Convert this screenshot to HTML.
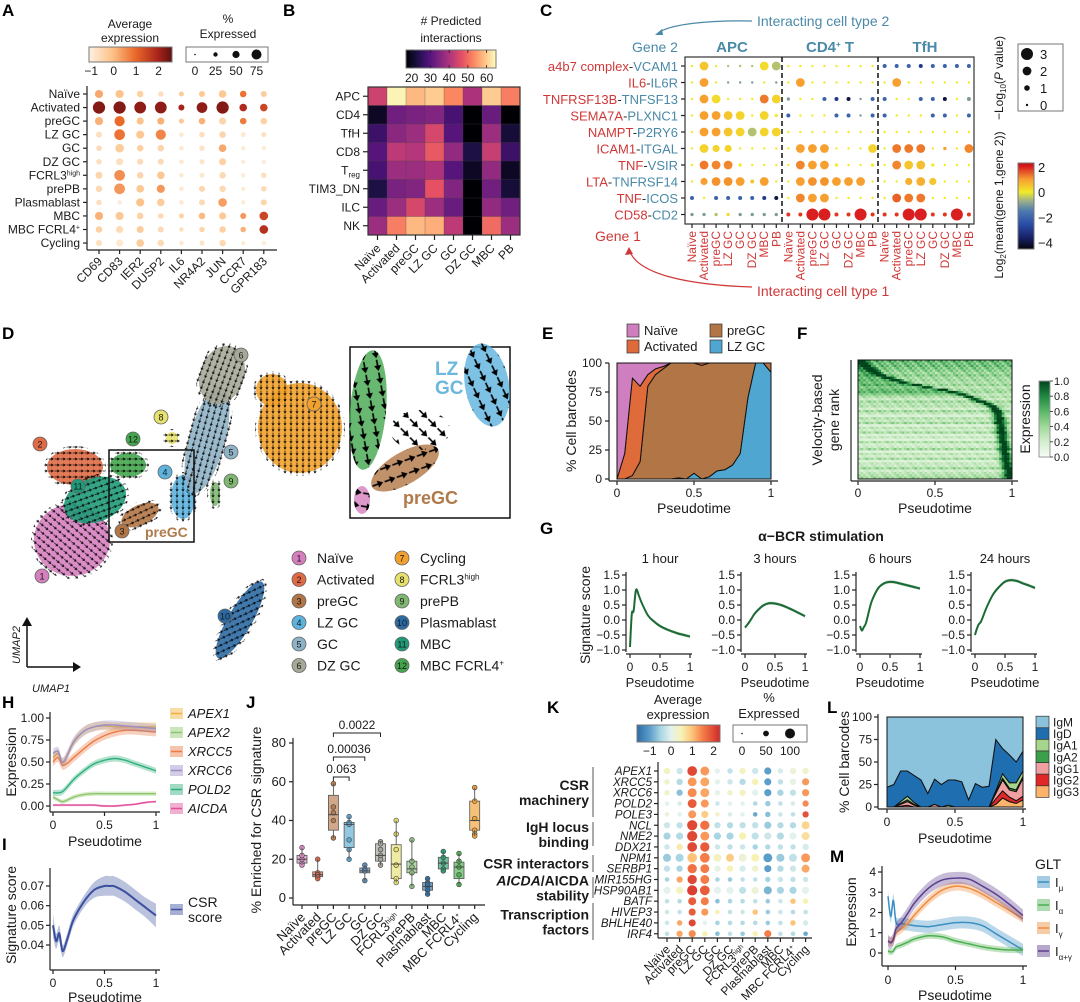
<!DOCTYPE html>
<html><head><meta charset="utf-8">
<style>
body{margin:0;background:#fff}
svg{display:block;font-family:"Liberation Sans",Arial,sans-serif}
</style></head>
<body>
<svg id="fig" width="1080" height="1002" viewBox="0 0 1080 1002">
<defs id="defs"></defs>
<rect x="0" y="0" width="1080" height="1002" fill="#fff"/>
</svg>
<script>
// ===== DATA =====
// Panel A
const aGenes=['CD69','CD83','IER2','DUSP2','IL6','NR4A2','JUN','CCR7','GPR183'];
const aCells=['Naïve','Activated','preGC','LZ GC','GC','DZ GC','FCRL3<tspan dy="-4" font-size="7">high</tspan>','prePB','Plasmablast','MBC','MBC FCRL4<tspan dy="-4" font-size="7">+</tspan>','Cycling'];
const aColor=[[0.3,0,-0.3,-0.6,-0.2,-0.1,-0.1,0.9,-0.2],[2.3,2.3,2.2,2.2,2.0,2.2,2.3,1.9,1.5],[0.2,1.0,0,0.2,-0.1,0.2,-0.4,0.8,-0.3],[-0.6,0.9,-0.1,0.7,-0.8,-0.6,-0.4,-0.8,-0.6],[-0.5,-0.2,-0.3,-0.4,-0.8,-0.7,0.3,-0.9,-0.9],[-0.6,-0.6,-0.5,-0.5,-0.8,-0.7,-0.3,-0.9,-0.9],[-0.4,0.6,-0.4,-0.1,-0.8,-0.8,-0.5,-0.9,-0.6],[-0.5,0.5,-0.1,0.5,-0.8,-0.4,-0.5,-0.9,-0.5],[-0.6,-0.9,0,-0.2,-0.8,-0.5,0.4,-0.9,-0.4],[0.2,-0.1,-0.3,-0.5,-0.3,0.1,-0.1,0.5,1.5],[-0.3,-0.5,-0.2,-0.5,-0.6,-0.4,-0.3,0.2,1.8],[-0.6,-0.8,-0.2,-0.5,-0.8,-0.7,-0.5,-0.9,-0.9]];
const aSize=[[0.55,0.55,0.4,0.3,0.25,0.35,0.5,0.4,0.35],[0.95,0.95,0.9,0.9,0.35,0.8,0.95,0.5,0.5],[0.55,0.75,0.45,0.45,0.25,0.4,0.45,0.4,0.4],[0.35,0.8,0.55,0.75,0.2,0.3,0.4,0.25,0.25],[0.3,0.6,0.4,0.4,0.2,0.3,0.5,0.2,0.2],[0.3,0.45,0.35,0.35,0.2,0.25,0.45,0.2,0.2],[0.45,0.8,0.4,0.5,0.2,0.25,0.4,0.2,0.3],[0.4,0.8,0.5,0.55,0.2,0.35,0.4,0.2,0.3],[0.3,0.2,0.55,0.5,0.2,0.35,0.6,0.2,0.35],[0.55,0.55,0.4,0.3,0.25,0.4,0.45,0.35,0.6],[0.4,0.45,0.45,0.35,0.2,0.3,0.4,0.3,0.6],[0.35,0.45,0.5,0.4,0.2,0.25,0.4,0.2,0.2]];
// Panel B
const bRows=['APC','CD4','TfH','CD8','T<tspan dy="3" font-size="8">reg</tspan>','TIM3_DN','ILC','NK'];
const bCols=['Naïve','Activated','preGC','LZ GC','GC','DZ GC','MBC','PB'];
const bVals=[[44,64,58,60,53,40,60,52],[20,33,34,35,28,17,32,17],[27,36,38,45,30,17,38,22],[30,42,41,48,37,23,43,27],[28,38,38,40,30,20,37,20],[23,34,35,47,35,17,33,22],[32,38,45,38,32,17,37,33],[38,52,58,57,42,17,50,38]];
const bTicks=[20,30,40,50,60];
// Panel C
const cGene1=['a4b7 complex','IL6','TNFRSF13B','SEMA7A','NAMPT','ICAM1','TNF','LTA','TNF','CD58'];
const cGene2=['VCAM1','IL6R','TNFSF13','PLXNC1','P2RY6','ITGAL','VSIR','TNFRSF14','ICOS','CD2'];
const cCols=['Naïve','Activated','preGC','LZ GC','GC','DZ GC','MBC','PB'];
const cGroups=['APC','CD4<tspan dy="-5" font-size="8">+</tspan><tspan dy="5"> T</tspan>','TfH'];
const cColor=[[0,0.5,0,-0.5,-0.5,-0.5,0.2,-0.5,0,0,0,0,0,0,0,0,-2,-2,-2,-3,-2,-2,-2,-2],[0,1,0,-1,-1,-1,0,-1,0,1,0,0,0,0,0,0,0,1,0,0,0,0,0,0],[0,1,0.2,0,0,0,1.3,0.3,-1,0,0,-2,-3,-4,-1,-2,-2,0,0,-2,-2,-4,0,-1],[0,1,1,0.5,0.3,0,0.3,0,-2,0,0,0,-2,-2,-1,-2,-2,0,0,0,-2,-2,0,-2],[0,1,1,0.5,0.3,-0.5,0.3,0.3,0,0,0,0,0,0,0,0,0,0,0,0,0,0,0,0],[0,0.3,0.3,0.3,0,0,0,0,0,1,1,1,0,0,0,0.3,0,1.3,1.3,1.3,0,1,0,1.2],[0,1.3,1.2,1.2,0,0,0,0,0,1.2,1,1,0,0,0,0,0,1.2,0.5,0.6,0,0,0,0],[0,1,1.1,1.1,1,0.5,1,0,0,1,1.1,1.1,1,1,1,0,0,0,0.8,0.8,0.5,0,0,0],[-2,0,-2,-2,-2,-2,-3,-4,0,1.2,1,1,0,0,0,0,0,1.5,1.3,1.3,0,0,0,0],[-1,-1,-0.5,0.2,-1,-1,-1,-1,1.8,1.8,2,2,1.8,1.8,2,1.8,1.8,1.8,2,2,1.8,1.8,2,1.8]];
const cSize=[[0,2,0,0,0,0,2,2,0,0,0,0,0,0,0,0,0.5,0.5,0.5,0.5,0.5,0.5,0.5,0.5],[0,2,0,0,0,0,0,0,0,2,0,0,0,0,0,0,0,2,0,0,0,0,0,0],[0,2,2,0,0,0,2,2,0.3,0,0,0.5,0.5,0.5,0,0.5,0.5,0,0,0.5,0.5,0.5,0,0.5],[0,2,2,2,2,0,2,0.3,0.5,0,0,0,0.5,0.5,0,0.5,0.5,0,0,0,0.5,0.5,0,0.5],[0,2,2,2,2,2,2,2,0,0,0,0,0,0,0,0,0,0,0,0,0,0,0,0],[0,2,1.5,1.5,0,0,0,0,0,2,2,2,0,0,0,2,0,2,2,2,0,0.3,0,2],[0,2,2,2,0.3,0,0,0,0,2,2,2,0.3,0,0,0.3,0,2,2,2,0.3,0,0,0],[0,1.5,2,2,2,0.5,2,0,0,2,2,2,2,2,2,0,0,0,1.5,2,1.5,0,0,0],[0.5,0,0.5,0.5,0.5,0.5,0.5,0.5,0,2,2,2,0,0,0,0,0,2,2,2,0,0,0,0],[0.3,0.3,0.3,0.3,0.3,0.3,0.3,0.3,0.5,0.5,3,3,0.5,0.5,3,0.5,0.5,0.5,3,3,0.5,0.5,3,0.5]];
// Panel D legend
const dNames=['Naïve','Activated','preGC','LZ GC','GC','DZ GC','Cycling','FCRL3<tspan dy="-5" font-size="8">high</tspan>','prePB','Plasmablast','MBC','MBC FCRL4<tspan dy="-5" font-size="8">+</tspan>'];
const dColors=['#d67fbe','#df6a45','#b27545','#5cb3de','#8fb3c6','#a6a998','#f1a12c','#e6e26c','#80b872','#2c6aa3','#1f9a78','#43a64e'];
// Panel E
const eT=[0,.05,.1,.15,.2,.25,.3,.35,.4,.45,.5,.55,.6,.65,.7,.75,.8,.85,.9,.95,1];
const eLZ=[0,0,0,0,0,0,0,0,1,0,5,0,2,7,8,12,22,70,100,100,92];
const ePre=[0,0,3,15,80,90,95,100,99,100,95,98,98,93,92,88,78,30,0,0,8];
const eAct=[0,22,84,65,10,5,2,0,0,0,0,2,0,0,0,0,0,0,0,0,0];
const eNaive=[100,78,13,20,10,5,3,0,0,0,0,0,0,0,0,0,0,0,0,0,0];
// Panel F
const fPeaks=[0.02,0.04,0.05,0.08,0.1,0.12,0.15,0.2,0.25,0.3,0.38,0.45,0.55,0.62,0.68,0.72,0.76,0.8,0.84,0.87,0.89,0.9,0.91,0.91,0.92,0.92,0.92,0.93,0.93,0.93,0.93,0.94,0.94,0.94,0.94,0.95,0.95,0.95,0.95,0.96,0.96,0.96,0.96,0.97,0.97,0.97,0.98,0.98,0.98,0.99];
const fBase=[0.45,0.4,0.42,0.38,0.35,0.3,0.36,0.28,0.3,0.25,0.32,0.22,0.28,0.3,0.2,0.26,0.18,0.3,0.22,0.25,0.15,0.3,0.2,0.12,0.25,0.18,0.3,0.1,0.22,0.16,0.28,0.12,0.2,0.1,0.26,0.14,0.18,0.3,0.1,0.22,0.15,0.28,0.12,0.2,0.18,0.3,0.15,0.22,0.25,0.3];
// Panel G
const gT=[0,0.03,0.06,0.1,0.15,0.2,0.3,0.4,0.5,0.6,0.7,0.8,0.9,1];
const g1h=[-0.9,0.2,0.3,1.0,0.8,0.55,0.15,-0.05,-0.2,-0.3,-0.38,-0.45,-0.5,-0.55];
const g3h=[-0.25,-0.18,-0.1,0.02,0.18,0.3,0.48,0.56,0.55,0.5,0.42,0.33,0.23,0.13];
const g6h=[-0.2,-0.35,-0.25,-0.1,0.3,0.65,1.05,1.22,1.27,1.25,1.2,1.15,1.1,1.05];
const g24h=[-0.5,-0.3,-0.15,-0.05,0.2,0.45,0.85,1.1,1.28,1.33,1.3,1.22,1.15,1.07];
const gTitles=['1 hour','3 hours','6 hours','24 hours'];
const gTicks=[1.5,1.0,0.5,0.0,-0.5,-1.0];
// Panel H
const hT=[0,0.05,0.1,0.2,0.3,0.4,0.5,0.6,0.7,0.8,0.9,1];
const hAPEX1=[0.55,0.6,0.5,0.72,0.85,0.9,0.91,0.9,0.9,0.9,0.9,0.9];
const hAPEX2=[0.1,0.07,0.05,0.1,0.13,0.14,0.14,0.14,0.14,0.14,0.14,0.14];
const hXRCC5=[0.5,0.55,0.46,0.55,0.65,0.74,0.8,0.84,0.86,0.86,0.85,0.84];
const hXRCC6=[0.6,0.62,0.5,0.73,0.85,0.9,0.92,0.92,0.91,0.9,0.89,0.88];
const hPOLD2=[0.15,0.15,0.17,0.3,0.4,0.48,0.52,0.54,0.52,0.48,0.44,0.4];
const hAICDA=[0.01,0.01,0.01,0.01,0.01,0.01,0.0,0.0,0.01,0.02,0.04,0.05];
const hNames=['APEX1','APEX2','XRCC5','XRCC6','POLD2','AICDA'];
const hBand=[0.05,0.025,0.05,0.05,0.035,0.012];
// Panel I
const iT=[0,0.03,0.06,0.08,0.1,0.15,0.2,0.3,0.4,0.5,0.55,0.6,0.7,0.8,0.9,1];
const iCSR=[0.05,0.042,0.046,0.04,0.037,0.045,0.053,0.062,0.068,0.070,0.070,0.0698,0.067,0.063,0.059,0.055];
const iBand=[0.006,0.004,0.004,0.004,0.003,0.003,0.003,0.003,0.004,0.005,0.005,0.005,0.005,0.005,0.005,0.006];
// Panel J
const jCats=['Naïve','Activated','preGC','LZ GC','GC','DZ GC','FCRL3<tspan dy="-4" font-size="7">high</tspan>','prePB','Plasmablast','MBC','MBC FCRL4<tspan dy="-4" font-size="7">+</tspan>','Cycling'];
const jPoints=[[18,20,22,26,17],[13,12,11,10,20,12],[59,47,44,40,31],[42,39,38,30,25,20],[17,15,14,9],[29,28,25,20,17,22],[40,33,25,17,10,8],[30,19,16,13,6],[10,8,6,4,2,7],[24,21,18,15,14],[23,19,16,12,7],[57,50,41,35,33,32]];
const jQ1=[18,11,35,26,13,19,10,13,4,15,10,35];
const jMed=[20,12,43,38,14,22,17.5,15,6,18,16,40];
const jQ3=[22,13.5,53,39,15.5,28,27.5,19,8,21,18.5,50];
const jTicks=[0,20,40,60,80];
const jSig=['0.063','0.00036','0.0022'];
const jSigTo=[3,4,5];
// Panel K
const kGenes=['APEX1','XRCC5','XRCC6','POLD2','POLE3','NCL','NME2','DDX21','NPM1','SERBP1','MIR155HG','HSP90AB1','BATF','HIVEP3','BHLHE40','IRF4'];
const kColor=[[0.4,-0.2,2.0,1.3,0,-0.3,0.4,-0.2,-1,-0.1,0.2,0.3],[0.3,-0.4,1.3,1.2,0,-0.2,-0.4,0.5,-1,-0.3,0.1,1.3],[0.3,-0.7,1.4,1.2,0,0.3,0.4,0,-1,-0.5,-0.3,1.3],[0,-0.1,1.8,1.3,-0.2,0,0,-0.4,-0.6,-0.3,-0.1,1.4],[0.2,0,1.3,0.9,0.3,-0.1,0,-0.9,-0.7,-0.2,-0.3,1.9],[-0.2,-0.3,2.0,1.6,-0.3,-0.4,-0.3,-0.3,-0.6,-0.4,-0.4,0.8],[-0.5,-0.4,2.0,1.3,-0.5,-0.5,0.5,-0.3,-0.2,-0.4,0,0.7],[-0.2,0.6,2.0,1.8,-0.2,-0.3,-0.2,-0.5,-0.4,-0.3,-0.3,-0.1],[-0.6,-0.5,1.0,1.5,0.4,0.9,0.2,0.5,-1,-0.6,-0.3,1.3],[-0.3,-0.5,1.6,1.5,0.1,0.5,-0.1,0.3,-1,-0.4,-0.2,1.2],[-0.5,1.2,2,1.5,-0.5,-0.6,-0.3,-0.3,-0.5,-0.2,-0.3,-0.2],[0,0.4,2.1,1.8,0,0,-0.3,0.2,-0.8,-0.5,-0.5,0],[-0.3,-0.4,1.8,1.5,-0.7,-0.5,-0.4,-0.3,-0.6,-0.2,1.0,0.5],[-0.2,-0.3,1.8,1.3,0.5,-0.3,-0.2,1.0,-0.6,-0.2,-0.4,-0.3],[-0.2,1.2,2.0,0,-0.5,-0.4,-0.4,-0.4,-0.6,-0.3,1.0,-0.1],[-0.3,1.2,1.4,0.5,-0.7,-0.3,-0.6,0.5,1.5,-0.3,-0.4,-0.9]];
const kSize=[[0.5,0.5,0.9,0.8,0.4,0.4,0.5,0.5,0.6,0.4,0.5,0.5],[0.4,0.5,0.8,0.8,0.4,0.4,0.5,0.5,0.6,0.4,0.5,0.6],[0.4,0.5,0.8,0.8,0.4,0.4,0.5,0.5,0.6,0.5,0.5,0.6],[0.3,0.3,0.8,0.7,0.3,0.3,0.3,0.3,0.4,0.3,0.3,0.5],[0.3,0.3,0.7,0.6,0.3,0.3,0.3,0.3,0.4,0.3,0.3,0.5],[0.5,0.5,0.95,0.85,0.5,0.5,0.5,0.5,0.6,0.5,0.5,0.7],[0.6,0.6,0.95,0.8,0.6,0.6,0.6,0.6,0.6,0.6,0.6,0.7],[0.4,0.5,0.9,0.85,0.4,0.4,0.4,0.4,0.4,0.4,0.4,0.5],[0.7,0.7,0.9,0.9,0.7,0.7,0.7,0.7,0.8,0.7,0.7,0.8],[0.5,0.5,0.85,0.8,0.5,0.5,0.5,0.5,0.6,0.5,0.5,0.7],[0.3,0.5,0.85,0.8,0.3,0.3,0.3,0.3,0.4,0.4,0.4,0.4],[0.6,0.6,0.95,0.9,0.6,0.6,0.6,0.6,0.7,0.6,0.6,0.6],[0.3,0.3,0.7,0.7,0.3,0.3,0.3,0.3,0.3,0.3,0.4,0.4],[0.3,0.3,0.6,0.6,0.3,0.3,0.3,0.4,0.3,0.3,0.3,0.3],[0.3,0.4,0.6,0.3,0.3,0.3,0.3,0.3,0.3,0.3,0.4,0.4],[0.3,0.5,0.6,0.4,0.3,0.3,0.3,0.4,0.6,0.3,0.3,0.3]];
const kCols=['Naïve','Activated','preGC','LZ GC','GC','DZ GC','FCRL3<tspan dy="-4" font-size="7">high</tspan>','prePB','Plasmablast','MBC','MBC FCRL4<tspan dy="-4" font-size="7">+</tspan>','Cycling'];
// Panel L
const lT=[0,.05,.1,.15,.2,.25,.3,.35,.4,.45,.5,.55,.6,.65,.7,.75,.8,.85,.9,.95,1];
const lIgG3=[0,0,0,0,0,0,0,0,0,0,0,0,0,0,0,0,3,10,6,4,8];
const lIgG2=[0,0,1,2,0,0,0,0,0,0,0,0,0,0,0,0,6,8,5,3,4];
const lIgG1=[0,0,2,4,2,0,0,3,0,0,0,0,0,0,0,0,6,12,8,10,20];
const lIgA2=[0,0,1,2,1,0,0,0,0,0,0,0,0,0,0,0,1,2,2,2,2];
const lIgA1=[0,0,2,4,2,0,0,0,0,2,0,0,0,0,0,0,2,5,6,8,6];
const lIgD=[22,25,34,28,30,30,15,28,25,28,30,28,8,26,22,23,57,28,31,23,22];
const lNames=['IgM','IgD','IgA1','IgA2','IgG1','IgG2','IgG3'];
const lColors=['#8cc3dc','#1f6fb0','#a6d58c','#3aa04a','#f0a0a0','#e02828','#fdb46a'];
// Panel M
const mT=[0,0.02,0.04,0.06,0.1,0.15,0.2,0.3,0.4,0.5,0.6,0.7,0.8,0.9,1];
const mMu=[2.8,1.8,2.6,1.5,1.45,1.4,1.35,1.3,1.4,1.5,1.5,1.35,0.95,0.55,0.15];
const mAlpha=[0.1,0.05,0.1,0.3,0.4,0.55,0.7,0.85,0.8,0.6,0.45,0.3,0.2,0.15,0.15];
const mGamma=[0.6,0.55,0.6,1.0,1.2,1.5,1.9,2.6,3.1,3.3,3.2,2.9,2.5,2.1,1.7];
const mAG=[0.6,0.5,0.7,1.2,1.5,2.0,2.5,3.2,3.6,3.7,3.65,3.3,2.9,2.4,1.85];
const mBand=[0.3,0.15,0.22,0.3];

// ===== HELPERS =====
const NS='http://www.w3.org/2000/svg';
const svg=document.getElementById('fig');
const defs=document.getElementById('defs');
function mk(tag,attrs,parent){const e=document.createElementNS(NS,tag);for(const k in attrs){if(attrs[k]!=null)e.setAttribute(k,attrs[k]);}(parent||svg).appendChild(e);return e;}
function T(x,y,s,o,name){o=o||{};const t=mk('text',{x:x,y:y,'font-size':o.fs||12,'text-anchor':o.a||'start',fill:o.c||'#1a1a1a','font-weight':o.b?'bold':null,'font-style':o.i?'italic':null,transform:o.r!=null?'rotate('+o.r+' '+x+' '+y+')':null},o.p);t.innerHTML=s;


return t;}
function Ln(x1,y1,x2,y2,name,w,c,dash){const l=mk('line',{x1:x1,y1:y1,x2:x2,y2:y2,stroke:c||'#222','stroke-width':w||1.2,'stroke-dasharray':dash||null});


return l;}
function hx(h){return [parseInt(h.substr(1,2),16),parseInt(h.substr(3,2),16),parseInt(h.substr(5,2),16)];}
function cmap(stops){return function(v){if(v<=stops[0][0])return stops[0][1];for(let i=1;i<stops.length;i++){if(v<=stops[i][0]){const f=(v-stops[i-1][0])/(stops[i][0]-stops[i-1][0]);const a=hx(stops[i-1][1]),b=hx(stops[i][1]);return 'rgb('+a.map((x,k)=>Math.round(x+(b[k]-x)*f)).join(',')+')';}}return stops[stops.length-1][1];};}
function grad(id,stops,vertical){const g=mk('linearGradient',{id:id,x1:0,y1:vertical?1:0,x2:vertical?0:1,y2:0},defs);const lo=stops[0][0],hi=stops[stops.length-1][0];stops.forEach(s=>mk('stop',{offset:((s[0]-lo)/(hi-lo)*100)+'%','stop-color':s[1]},g));}
function smooth(p){if(p.length<2)return '';let d='M'+p[0][0].toFixed(1)+','+p[0][1].toFixed(1);for(let i=0;i<p.length-1;i++){const p0=p[i-1]||p[i],p1=p[i],p2=p[i+1],p3=p[i+2]||p2;const c1=[p1[0]+(p2[0]-p0[0])/6,p1[1]+(p2[1]-p0[1])/6],c2=[p2[0]-(p3[0]-p1[0])/6,p2[1]-(p3[1]-p1[1])/6];d+='C'+c1[0].toFixed(1)+','+c1[1].toFixed(1)+' '+c2[0].toFixed(1)+','+c2[1].toFixed(1)+' '+p2[0].toFixed(1)+','+p2[1].toFixed(1);}return d;}
function lin(d0,d1,r0,r1){return v=>r0+(v-d0)/(d1-d0)*(r1-r0);}
function group(name){const g=mk('g',{});


return g;}
function letter(x,y,s){T(x,y,s,{fs:17,b:true,c:'#000'},'panel-label-'+s.toLowerCase());}
function lineBand(g,xs,ys,band,sx,sy,color,name,lw){const up=xs.map((x,i)=>[sx(x),sy(ys[i]+band[i])]);const dn=xs.map((x,i)=>[sx(x),sy(ys[i]-band[i])]).reverse();
const a=mk('path',{d:smooth(up)+'L'+dn[0][0]+','+dn[0][1]+smooth(dn).substring(1).replace(/^[^C]*/,'')+'Z',fill:color,'fill-opacity':0.35,stroke:'none'},g);


const l=mk('path',{d:smooth(xs.map((x,i)=>[sx(x),sy(ys[i])])),fill:'none',stroke:color,'stroke-width':lw||1.6},g);

}

const orange=[[-1,'#fdf1e2'],[0,'#fdc38a'],[1,'#ea6a2a'],[2,'#a8231a'],[2.6,'#5e1010']];
const magma=[[17,'#000004'],[23,'#1c1044'],[29,'#4f127b'],[35,'#812581'],[41,'#b5367a'],[47,'#e55064'],[53,'#fb8761'],[59,'#fec287'],[65,'#fcfdbf']];
const jet=[[-4.5,'#05050f'],[-3.5,'#1b2470'],[-2.5,'#2a4fa8'],[-1.5,'#4d79b0'],[-0.7,'#9bb089'],[0,'#f2ea2a'],[1,'#f7a030'],[2,'#d91f1f'],[2.3,'#c01010']];
const spectral=[[-1.6,'#2c6ba8'],[-1,'#5b9ec9'],[-0.5,'#a8d5e2'],[0,'#e4f2ee'],[0.5,'#f7f2b4'],[1,'#fdc37a'],[1.5,'#f47c46'],[2.3,'#d2282a']];
const greens=[[0,'#f7fcf5'],[0.2,'#d3eecd'],[0.4,'#a0d99a'],[0.6,'#5ab769'],[0.8,'#1f8742'],[1,'#00441b']];
grad('gA',orange,false);grad('gB',magma,false);grad('gC',jet,true);grad('gF',greens,true);grad('gK',spectral,false);
const cA=cmap(orange),cB=cmap(magma),cC=cmap(jet),cF=cmap(greens),cK=cmap(spectral);

// ===== PANEL A =====
(function(){const g=group('panel-a');letter(2,16,'A');
T(130,28,'Average',{a:'middle',p:g},'color-legend-title');T(130,42,'expression',{a:'middle',p:g},'color-legend-title-2');
const cb=mk('rect',{x:89,y:47,width:83,height:15,fill:'url(#gA)',stroke:'#777'},g);


[-1,0,1,2].forEach(v=>{const x=lin(-1.1,2.6,89,172)(v);T(x,75,v<0?'−1':String(v),{a:'middle',p:g},'color-tick');});
T(228,23,'%',{a:'middle',p:g},'size-legend-title');T(228,38,'Expressed',{a:'middle',p:g},'size-legend-title-2');
const sb=mk('rect',{x:186,y:47,width:82,height:15,fill:'#fff',stroke:'#777'},g);


[0,25,50,75].forEach((v,i)=>{const x=195+i*20.5;const c=mk('circle',{cx:x,cy:54.5,r:0.8+v/75*4.2,fill:'#111'},g);


T(x,75,String(v),{a:'middle',p:g},'size-tick');});
const sx=i=>99+i*20.6,sy=j=>94+j*13.55;
Ln(87,86,87,250,'y-axis');Ln(87,250,277,250,'x-axis');
aCells.forEach((c,j)=>{Ln(83,sy(j),87,sy(j),'y-tick');T(80,sy(j)+4,c,{a:'end',p:g,fs:12},'row-label');});
aGenes.forEach((n,i)=>{Ln(sx(i),250,sx(i),254,'x-tick');T(sx(i)+4,262,n,{a:'end',r:-45,p:g,fs:12},'gene-label');});
aColor.forEach((row,j)=>row.forEach((v,i)=>{const d=mk('circle',{cx:sx(i),cy:sy(j),r:1.2+aSize[j][i]*5.2,fill:cA(v)},g);

}));
})();

// ===== PANEL B =====
(function(){const g=group('panel-b');letter(283,16,'B');
T(451,25,'# Predicted',{a:'middle',p:g},'color-legend-title');T(451,42,'interactions',{a:'middle',p:g},'color-legend-title-2');
const cb=mk('rect',{x:406,y:50,width:90,height:18,fill:'url(#gB)',stroke:'#777'},g);


const cx=lin(17,65,406,496);
bTicks.forEach(v=>{Ln(cx(v),50,cx(v),53,'bar-tick',0.8);Ln(cx(v),65,cx(v),68,'bar-tick',0.8);T(cx(v),82,String(v),{a:'middle',p:g,fs:12},'color-tick');});
const x0=368,w=19,y0=87,h=18.5;
bVals.forEach((row,j)=>row.forEach((v,i)=>{const r=mk('rect',{x:x0+i*w,y:y0+j*h,width:w+0.3,height:h+0.3,fill:cB(v),stroke:'#444','stroke-width':0.3},g);

}));
const fr=mk('rect',{x:x0,y:y0,width:8*w,height:8*h,fill:'none',stroke:'#333','stroke-width':1.2},g);


bRows.forEach((r,j)=>{Ln(x0-5,y0+j*h+h/2,x0,y0+j*h+h/2,'y-tick');T(x0-8,y0+j*h+h/2+4,r,{a:'end',p:g,fs:12},'row-label');});
bCols.forEach((c,i)=>{const x=x0+i*w+w/2;Ln(x,y0+8*h,x,y0+8*h+5,'x-tick');T(x+4,y0+8*h+14,c,{a:'end',r:-45,p:g,fs:12},'col-label');});
})();

// ===== PANEL C =====
(function(){const g=group('panel-c');letter(540,16,'C');
const blue='#4a8aa8',red='#d03838';
T(757,26,'Interacting cell type 2',{p:g,fs:14,c:blue},'annotation-cell-type-2');
const a1=mk('path',{d:'M752,21 C710,20 670,24 658,33',fill:'none',stroke:blue,'stroke-width':1.2},g);


const h1=mk('path',{d:'M655,35 L662,29 L663,35 Z',fill:blue},g);


T(655,52,'Gene 2',{a:'middle',p:g,fs:14,c:blue},'gene-2-label');
const sx=i=>692+i*12.04,sy=j=>66+j*16.5;
cGroups.forEach((n,k)=>T([732,830,925][k],52,n,{a:'middle',b:true,p:g,fs:15,c:blue},'group-title'));
const fr=mk('rect',{x:685,y:57,width:289,height:167,fill:'none',stroke:'#333','stroke-width':1.2},g);


Ln(782,57,782,224,'group-divider',1.5,'#111','5,3');Ln(878,57,878,224,'group-divider',1.5,'#111','5,3');
cGene1.forEach((n,j)=>{Ln(681,sy(j),685,sy(j),'y-tick');T(678,sy(j)+5,'<tspan fill="'+red+'">'+n+'</tspan><tspan fill="#333">-</tspan><tspan fill="'+blue+'">'+cGene2[j]+'</tspan>',{a:'end',p:g,fs:13},'pair-label');});
for(let k=0;k<3;k++)cCols.forEach((c,i)=>{const x=sx(k*8+i);Ln(x,224,x,228,'x-tick');T(x+4,231,c,{a:'end',r:-90,p:g,fs:12,c:red},'col-label');});
cColor.forEach((row,j)=>row.forEach((v,i)=>{const d=mk('circle',{cx:sx(i),cy:sy(j),r:1.2+cSize[j][i]*1.6,fill:cC(v)},g);

}));
T(618,241,'Gene 1',{a:'middle',p:g,fs:14,c:red},'gene-1-label');
const a2=mk('path',{d:'M752,287 C690,285 640,275 630,252',fill:'none',stroke:red,'stroke-width':1.2},g);


const h2=mk('path',{d:'M629,247 L625,255 L633,254 Z',fill:red},g);


T(757,296,'Interacting cell type 1',{p:g,fs:14,c:red},'annotation-cell-type-1');
const sb=mk('rect',{x:1018,y:44,width:45,height:67,fill:'#fff',stroke:'#777'},g);


[3,2,1,0].forEach((v,i)=>{const y=54+i*17;const c=mk('circle',{cx:1027,cy:y,r:1.2+v*1.6,fill:'#111'},g);


T(1040,y+5,String(v),{p:g,fs:13},'size-tick');});
T(1003,78,'−Log<tspan dy="3" font-size="8">10</tspan><tspan dy="-3">(</tspan><tspan font-style="italic">P</tspan> value)',{a:'middle',r:-90,p:g,fs:12},'size-legend-title');
const cb=mk('rect',{x:1018,y:163,width:16,height:86,fill:'url(#gC)',stroke:'#777'},g);


const cy=lin(-4.5,2.3,249,163);
[2,0,-2,-4].forEach(v=>T(1038,cy(v)+5,v<0?'−'+(-v):String(v),{p:g,fs:13},'color-tick'));
T(1003,205,'Log<tspan dy="3" font-size="8">2</tspan><tspan dy="-3">(mean(gene 1,gene 2))</tspan>',{a:'middle',r:-90,p:g,fs:12},'color-legend-title');
})();

// ===== PANEL D =====
(function(){const g=group('panel-d');letter(2,339,'D');
function pat(id,ang,sz){const p=mk('pattern',{id:id,width:sz,height:sz,patternUnits:'userSpaceOnUse',patternTransform:'rotate('+ang+')'},defs);
mk('path',{d:'M'+(sz*0.1)+','+(sz/2)+' H'+(sz*0.7),stroke:'#000','stroke-width':sz/8,fill:'none'},p);
mk('path',{d:'M'+(sz*0.98)+','+(sz/2)+' L'+(sz*0.55)+','+(sz*0.22)+' L'+(sz*0.55)+','+(sz*0.78)+' Z',fill:'#000'},p);}
pat('pR',0,6);pat('pD',90,6);pat('pDR',40,6);pat('pUR',-55,6);pat('pBigR',10,13);pat('pBigD',75,13);pat('pBigDR',45,13);
const blobs=[[72,540,38,36,0,0,'pDR'],[75,467,28,18,0,1,'pR'],[95,500,32,22,-20,10,'pR'],[128,465,18,12,0,11,'pR'],[140,515,20,10,-25,2,'pR'],[172,438,6,6,0,7,'pR'],[183,497,12,22,0,3,'pD'],[207,440,18,55,15,4,'pD'],[222,375,22,30,20,5,'pD'],[215,494,5,12,0,8,'pD'],[300,428,42,45,0,6,'pD'],[272,390,16,16,0,6,'pD'],[240,620,12,44,30,9,'pUR']];
blobs.forEach(b=>{const e=mk('ellipse',{cx:b[0],cy:b[1],rx:b[2],ry:b[3],transform:'rotate('+b[4]+' '+b[0]+' '+b[1]+')',fill:dColors[b[5]],'fill-opacity':0.9},g);


const a=mk('ellipse',{cx:b[0],cy:b[1],rx:b[2]+3,ry:b[3]+3,transform:'rotate('+b[4]+' '+b[0]+' '+b[1]+')',fill:'url(#'+b[6]+')','fill-opacity':0.9},g);

});
const bx=mk('rect',{x:109,y:450,width:85,height:92,fill:'none',stroke:'#111','stroke-width':1.5},g);


T(145,537,'preGC',{p:g,fs:14,b:true,c:'#b07a4a'},'zoom-box-label');
const pos=[[42,576],[40,444],[122,531],[165,472],[231,452],[241,355],[314,404],[161,417],[231,481],[225,616],[78,486],[133,439]];
pos.forEach((p,i)=>{const c=mk('circle',{cx:p[0],cy:p[1],r:7,fill:dColors[i],stroke:'#666','stroke-width':0.8},g);


T(p[0],p[1]+3.5,String(i+1),{a:'middle',p:g,fs:9},'cluster-number');});
const ib=mk('rect',{x:350,y:347,width:160,height:171,fill:'#fff',stroke:'#111','stroke-width':1.5},g);


const inset=[[368,410,18,60,5,11,'pBigD'],[487,385,22,42,-10,3,'pBigD'],[405,468,38,16,-30,2,'pBigR'],[362,500,8,14,0,0,'pBigR'],[420,430,30,20,0,2,'pBigDR']];
inset.forEach((b,k)=>{const e=mk('ellipse',{cx:b[0],cy:b[1],rx:b[2],ry:b[3],transform:'rotate('+b[4]+' '+b[0]+' '+b[1]+')',fill:k==4?'none':dColors[b[5]],'fill-opacity':0.8},g);


const a=mk('ellipse',{cx:b[0],cy:b[1],rx:b[2],ry:b[3],transform:'rotate('+b[4]+' '+b[0]+' '+b[1]+')',fill:'url(#'+b[6]+')'},g);

});
T(435,375,'LZ',{p:g,fs:19,b:true,c:'#6cb8dc'},'inset-lz-label');T(435,394,'GC',{p:g,fs:19,b:true,c:'#6cb8dc'},'inset-gc-label');
T(403,504,'preGC',{p:g,fs:18,b:true,c:'#b07a4a'},'inset-pregc-label');
dNames.forEach((n,i)=>{const col=Math.floor(i/6),row=i%6;const cx=col?402:299,y=558+row*21.5;const c=mk('circle',{cx:cx,cy:y,r:7,fill:dColors[i],stroke:'#666','stroke-width':0.8},g);


T(cx,y+3.5,String(i+1),{a:'middle',p:g,fs:9},'legend-number');
T(cx+18,y+5,n,{p:g,fs:14},'legend-entry');});
const ax=mk('path',{d:'M27,667 V625 M27,667 H74',stroke:'#111','stroke-width':1.5,fill:'none'},g);


const ah=mk('path',{d:'M22,626 L27,617 L32,626 Z M73,662 L81,667 L73,672 Z',fill:'#111'},g);


T(20,645,'UMAP2',{a:'middle',r:-90,i:true,p:g,fs:11},'umap2-label');T(51,692,'UMAP1',{a:'middle',i:true,p:g,fs:11},'umap1-label');
})();

// ===== PANEL E =====
(function(){const g=group('panel-e');letter(542,339,'E');
const sx=lin(0,1,617,771),sy=lin(0,100,479,363);
const layers=[eLZ,ePre,eAct,eNaive],cols=['#4fa6d0','#b27545','#df6a3a','#cf7fbf'],names=['lz-gc-area','pregc-area','activated-area','naive-area'];
let cum=eT.map(()=>0);
layers.forEach((L,k)=>{const lo=cum.slice();cum=cum.map((c,i)=>c+L[i]);const top=eT.map((t,i)=>sx(t)+','+sy(cum[i]));const bot=eT.map((t,i)=>sx(t)+','+sy(lo[i])).reverse();
const p=mk('polygon',{points:top.concat(bot).join(' '),fill:cols[k],stroke:'#111','stroke-width':1},g);

});
const fr=mk('rect',{x:617,y:363,width:154,height:116,fill:'none',stroke:'#111','stroke-width':1},g);


Ln(609,363,609,481,'y-axis');Ln(609,481,778,481,'x-axis');
[0,25,50,75,100].forEach(v=>{Ln(605,sy(v),609,sy(v),'y-tick');T(602,sy(v)+4,String(v),{a:'end',p:g,fs:12},'y-tick-label');});
[0,0.5,1].forEach(v=>{Ln(sx(v),481,sx(v),485,'x-tick');T(sx(v),497,String(v),{a:'middle',p:g,fs:12},'x-tick-label');});
T(694,513,'Pseudotime',{a:'middle',p:g,fs:14},'x-axis-title');
T(576,421,'% Cell barcodes',{a:'middle',r:-90,p:g,fs:14},'y-axis-title');
[['Naïve',627,330,3],['Activated',627,346,2],['preGC',710,330,1],['LZ GC',710,346,0]].forEach(l=>{const r=mk('rect',{x:l[1],y:l[2]-6,width:12,height:13,fill:cols[l[3]],stroke:'#333','stroke-width':0.7},g);


T(l[1]+17,l[2]+5,l[0],{p:g,fs:13},'legend-entry');});
})();

// ===== PANEL F =====
(function(){const g=group('panel-f');letter(797,339,'F');
const nC=60,x0=858,x1=1012,y0=360,y1=479,w=(x1-x0)/nC,h=(y1-y0)/fPeaks.length;
fPeaks.forEach((p,j)=>{for(let i=0;i<nC;i++){const t=(i+0.5)/nC;const v=Math.min(1,fBase[j]*(0.9+1.0*((i*7+j*3)%5)/5)+0.9*Math.exp(-Math.pow((t-p)/0.035,2))+(t<p&&j<15?0.2:0));
const r=mk('rect',{x:(x0+i*w).toFixed(2),y:(y0+j*h).toFixed(2),width:(w+0.3).toFixed(2),height:(h+0.2).toFixed(2),fill:cF(v)},g);

}});
const fr=mk('rect',{x:x0,y:y0,width:x1-x0,height:y1-y0,fill:'none',stroke:'#111','stroke-width':1},g);


Ln(851,360,851,481,'y-axis');Ln(851,481,1018,481,'x-axis');
const sx=lin(0,1,x0,x1);
[0,0.5,1].forEach(v=>{Ln(sx(v),481,sx(v),485,'x-tick');T(sx(v),497,String(v),{a:'middle',p:g,fs:12},'x-tick-label');});
T(935,513,'Pseudotime',{a:'middle',p:g,fs:14},'x-axis-title');
T(822,420,'Velocity-based',{a:'middle',r:-90,p:g,fs:14},'y-axis-title');T(839,420,'gene rank',{a:'middle',r:-90,p:g,fs:14},'y-axis-title-2');
const cb=mk('rect',{x:1039,y:381,width:11,height:76,fill:'url(#gF)',stroke:'#999'},g);


[0,0.2,0.4,0.6,0.8,1].forEach(v=>{const y=457-v*76;Ln(1050,y,1053,y,'bar-tick',0.8);T(1054,y+4,v.toFixed(1),{p:g,fs:11},'color-tick');});
T(1030,419,'Expression',{a:'middle',r:-90,p:g,fs:14},'color-legend-title');
})();

// ===== PANEL G =====
(function(){const g=group('panel-g');letter(540,534,'G');
T(821,541,'α−BCR stimulation',{a:'middle',b:true,p:g,fs:14},'g-title');
const series=[g1h,g3h,g6h,g24h],xs=[630,745,860,975];
const sy=lin(-1,1.5,650,575);
series.forEach((s,k)=>{const sx=lin(0,1,xs[k],xs[k]+60);const pg=group('subplot-'+gTitles[k].replace(' ','-'));
T(xs[k]+30,563,gTitles[k],{a:'middle',p:pg,fs:13},'subplot-title');
Ln(xs[k]-4,572,xs[k]-4,652,'y-axis');Ln(xs[k]-4,654,xs[k]+62,654,'x-axis');
gTicks.forEach(v=>{Ln(xs[k]-8,sy(v),xs[k]-4,sy(v),'y-tick');T(xs[k]-10,sy(v)+4,v<0?'−'+(-v).toFixed(1):v.toFixed(1),{a:'end',p:pg,fs:12},'y-tick-label');});
[0,0.5,1].forEach(v=>{Ln(sx(v),654,sx(v),658,'x-tick');T(sx(v),671,String(v),{a:'middle',p:pg,fs:12},'x-tick-label');});
T(xs[k]+30,687,'Pseudotime',{a:'middle',p:pg,fs:13},'x-axis-title');
lineBand(pg,gT,s,gT.map(()=>0.05),sx,sy,'#1c6b35','signature-'+k,2);});
T(590,615,'Signature score',{a:'middle',r:-90,p:g,fs:14},'y-axis-title');
})();

// ===== PANEL H =====
(function(){const g=group('panel-h');letter(2,708,'H');
const sx=lin(0,1,53,156),sy=lin(0,1,806,718);
const data=[hAPEX1,hAPEX2,hXRCC5,hXRCC6,hPOLD2,hAICDA],cols=['#f0b13e','#8cc66a','#ec7a44','#9b8fc4','#2fb07a','#e0509a'];
data.forEach((d,k)=>lineBand(g,hT,d,hT.map(()=>hBand[k]),sx,sy,cols[k],'h-'+hNames[k],1.4));
Ln(50,712,50,812,'y-axis');Ln(50,812,160,812,'x-axis');
[0,0.25,0.5,0.75,1].forEach(v=>{Ln(46,sy(v),50,sy(v),'y-tick');T(44,sy(v)+4,v.toFixed(2),{a:'end',p:g,fs:12},'y-tick-label');});
[0,0.5,1].forEach(v=>{Ln(sx(v),812,sx(v),816,'x-tick');T(sx(v),829,String(v),{a:'middle',p:g,fs:12},'x-tick-label');});
T(105,846,'Pseudotime',{a:'middle',p:g,fs:14},'x-axis-title');
T(16,762,'Expression',{a:'middle',r:-90,p:g,fs:14},'y-axis-title');
hNames.forEach((n,k)=>{const y=714+k*19;const r=mk('rect',{x:170,y:y-6,width:13,height:11,fill:cols[k],'fill-opacity':0.45},g);


Ln(171,y-0.5,182,y-0.5,'legend-line',1.5,cols[k]);
T(188,y+4,n,{p:g,fs:13,i:true},'legend-entry');});
})();

// ===== PANEL I =====
(function(){const g=group('panel-i');letter(2,850,'I');
const sx=lin(0,1,53,156),sy=lin(0.04,0.07,945,886);
lineBand(g,iT,iCSR,iBand,sx,sy,'#3a4f9e','csr-score',2);
Ln(50,868,50,970,'y-axis');Ln(50,970,160,970,'x-axis');
[0.04,0.05,0.06,0.07].forEach(v=>{Ln(46,sy(v),50,sy(v),'y-tick');T(44,sy(v)+4,v.toFixed(2),{a:'end',p:g,fs:12},'y-tick-label');});
[0,0.5,1].forEach(v=>{Ln(sx(v),970,sx(v),974,'x-tick');T(sx(v),987,String(v),{a:'middle',p:g,fs:12},'x-tick-label');});
T(105,1002,'Pseudotime',{a:'middle',p:g,fs:14},'x-axis-title');
T(16,915,'Signature score',{a:'middle',r:-90,p:g,fs:14},'y-axis-title');
const r=mk('rect',{x:170,y:904,width:13,height:11,fill:'#3a4f9e','fill-opacity':0.45},g);


Ln(171,909.5,182,909.5,'legend-line',1.5,'#3a4f9e');
T(188,907,'CSR',{p:g,fs:14},'legend-entry');T(188,922,'score',{p:g,fs:14},'legend-entry-2');
})();

// ===== PANEL J =====
(function(){const g=group('panel-j');letter(246,708,'J');
const sx=i=>302+i*15.7,sy=lin(0,80,898,743);
const cols=['#d98cc0','#d9694a','#b87a4a','#5ba9d0','#5b8db8','#a5a59a','#e8e070','#8ebf80','#2f6fa8','#2a9d6e','#4caf50','#f0a030'];
Ln(293,738,293,905,'y-axis');Ln(293,905,485,905,'x-axis');
jTicks.forEach(v=>{Ln(289,sy(v),293,sy(v),'y-tick');T(286,sy(v)+4,String(v),{a:'end',p:g,fs:13},'y-tick-label');});
jCats.forEach((c,i)=>{const x=sx(i);Ln(x,905,x,909,'x-tick');T(x+4,918,c,{a:'end',r:-45,p:g,fs:13},'category-label');
const pts=jPoints[i];const mn=Math.min(...pts),mx=Math.max(...pts);
Ln(x,sy(mn),x,sy(jQ1[i]),'whisker',0.9,'#555');Ln(x,sy(jQ3[i]),x,sy(mx),'whisker',0.9,'#555');
const b=mk('rect',{x:x-5,y:sy(jQ3[i]),width:10,height:sy(jQ1[i])-sy(jQ3[i]),fill:cols[i],'fill-opacity':0.65,stroke:'#555','stroke-width':0.8},g);


Ln(x-5,sy(jMed[i]),x+5,sy(jMed[i]),'median',1,'#444');
pts.forEach(v=>{const c=mk('circle',{cx:x,cy:sy(v),r:2.4,fill:cols[i],stroke:'#444','stroke-width':0.6},g);

});});
const ys=[777,757,733];
jSig.forEach((s,k)=>{const x1=sx(2),x2=sx(jSigTo[k]),y=ys[k];const p=mk('path',{d:'M'+x1+','+(y+4)+' V'+y+' H'+x2+' V'+(y+4),fill:'none',stroke:'#222','stroke-width':1},g);


T((x1+x2)/2,y-4,s,{a:'middle',p:g,fs:12},'p-value-label');});
T(261,820,'% Enriched for CSR signature',{a:'middle',r:-90,p:g,fs:14},'y-axis-title');
})();

// ===== PANEL K =====
(function(){const g=group('panel-k');letter(547,713,'K');
T(678,704,'Average',{a:'middle',p:g,fs:13},'color-legend-title');T(678,719,'expression',{a:'middle',p:g,fs:13},'color-legend-title-2');
const cb=mk('rect',{x:637,y:725,width:83,height:17,fill:'url(#gK)',stroke:'#777'},g);


const cx=lin(-1.6,2.3,637,720);
[-1,0,1,2].forEach(v=>T(cx(v),755,v<0?'−1':String(v),{a:'middle',p:g,fs:12},'color-tick'));
T(769,702,'%',{a:'middle',p:g,fs:13},'size-legend-title');T(769,718,'Expressed',{a:'middle',p:g,fs:13},'size-legend-title-2');
const sb=mk('rect',{x:733,y:725,width:74,height:17,fill:'#fff',stroke:'#777'},g);


[0,50,100].forEach((v,i)=>{const x=[742,766,790][i];const c=mk('circle',{cx:x,cy:733.5,r:0.8+v/100*4.2,fill:'#111'},g);


T(x,755,String(v),{a:'middle',p:g,fs:12},'size-tick');});
const sx=i=>667+i*12.6,sy=j=>771+j*10.85;
Ln(658,762,658,938,'y-axis');Ln(658,938,812,938,'x-axis');
kGenes.forEach((n,j)=>{Ln(654,sy(j),658,sy(j),'y-tick');T(652,sy(j)+4,n,{a:'end',i:true,p:g,fs:11.5},'gene-label');});
kCols.forEach((c,i)=>{Ln(sx(i),938,sx(i),942,'x-tick');T(sx(i)+4,950,c,{a:'end',r:-45,p:g,fs:12},'category-label');});
kColor.forEach((row,j)=>row.forEach((v,i)=>{const d=mk('circle',{cx:sx(i),cy:sy(j),r:1+kSize[j][i]*4.3,fill:cK(v)},g);

}));
const groups=[['CSR','machinery',767,817],['IgH locus','binding',822,846],['CSR interactors',null,855,872],['<tspan font-style="italic">AICDA</tspan>/AICDA','stability',877,898],['Transcription','factors',903,940]];
groups.forEach(gg=>{Ln(593,gg[2],593,gg[3],'group-bracket',1,'#555');const mid=(gg[2]+gg[3])/2;
if(gg[1]){T(589,mid-2,gg[0],{a:'end',b:true,p:g,fs:14},'group-label');T(589,mid+13,gg[1],{a:'end',b:true,p:g,fs:14},'group-label-2');}
else T(589,mid+5,gg[0],{a:'end',b:true,p:g,fs:14},'group-label');});
})();

// ===== PANEL L =====
(function(){const g=group('panel-l');letter(827,713,'L');
const sx=lin(0,1,887,1023),sy=lin(0,100,807,717);
const lIgM=lT.map((t,i)=>100-lIgG3[i]-lIgG2[i]-lIgG1[i]-lIgA2[i]-lIgA1[i]-lIgD[i]);
const layers=[lIgG3,lIgG2,lIgG1,lIgA2,lIgA1,lIgD,lIgM],cidx=[6,5,4,3,2,1,0];
let cum=lT.map(()=>0);
layers.forEach((L,k)=>{const lo=cum.slice();cum=cum.map((c,i)=>c+L[i]);const top=lT.map((t,i)=>sx(t)+','+sy(cum[i]));const bot=lT.map((t,i)=>sx(t)+','+sy(lo[i])).reverse();
const p=mk('polygon',{points:top.concat(bot).join(' '),fill:lColors[cidx[k]],stroke:'#111','stroke-width':1},g);

});
const fr=mk('rect',{x:887,y:717,width:136,height:90,fill:'none',stroke:'#111','stroke-width':1},g);


Ln(878,714,878,809,'y-axis');Ln(878,809,1026,809,'x-axis');
[0,25,50,75,100].forEach(v=>{Ln(874,sy(v),878,sy(v),'y-tick');T(872,sy(v)+4,String(v),{a:'end',p:g,fs:12},'y-tick-label');});
[0,0.5,1].forEach(v=>{Ln(sx(v),809,sx(v),813,'x-tick');T(sx(v),826,String(v),{a:'middle',p:g,fs:12},'x-tick-label');});
T(955,843,'Pseudotime',{a:'middle',p:g,fs:14},'x-axis-title');
T(849,762,'% Cell barcodes',{a:'middle',r:-90,p:g,fs:14},'y-axis-title');
lNames.forEach((n,k)=>{const y=722+k*11.6;const r=mk('rect',{x:1036,y:y-5.8,width:13,height:11.6,fill:lColors[k],stroke:'#333','stroke-width':0.7},g);


T(1053,y+4.5,n,{p:g,fs:12},'legend-entry');});
})();

// ===== PANEL M =====
(function(){const g=group('panel-m');letter(830,862,'M');
const sx=lin(0,1,888,1023),sy=lin(0,4,953,872);
const data=[mMu,mAlpha,mGamma,mAG],cols=['#3a8fc4','#4caf50','#f08c3c','#5b3f8f'];
const subs=['μ','α','γ','α+γ'];
data.forEach((d,k)=>lineBand(g,mT,d,mT.map(()=>mBand[k]),sx,sy,cols[k],'m-series-'+k,1.5));
Ln(882,866,882,966,'y-axis');Ln(882,966,1027,966,'x-axis');
[0,1,2,3,4].forEach(v=>{Ln(878,sy(v),882,sy(v),'y-tick');T(876,sy(v)+4,String(v),{a:'end',p:g,fs:12},'y-tick-label');});
[0,0.5,1].forEach(v=>{Ln(sx(v),966,sx(v),970,'x-tick');T(sx(v),984,String(v),{a:'middle',p:g,fs:12},'x-tick-label');});
T(955,1000,'Pseudotime',{a:'middle',p:g,fs:14},'x-axis-title');
T(856,912,'Expression',{a:'middle',r:-90,p:g,fs:14},'y-axis-title');
T(1035,869,'GLT',{p:g,fs:14},'legend-title');
subs.forEach((s,k)=>{const y=882+k*23;const r=mk('rect',{x:1037,y:y-6,width:13,height:12,fill:cols[k],'fill-opacity':0.45},g);


Ln(1038,y,1049,y,'legend-line',1.5,cols[k]);
T(1055,y+5,'I<tspan dy="4" font-size="8">'+s+'</tspan>',{p:g,fs:13},'legend-entry');});
})();
</script>
</body></html>
